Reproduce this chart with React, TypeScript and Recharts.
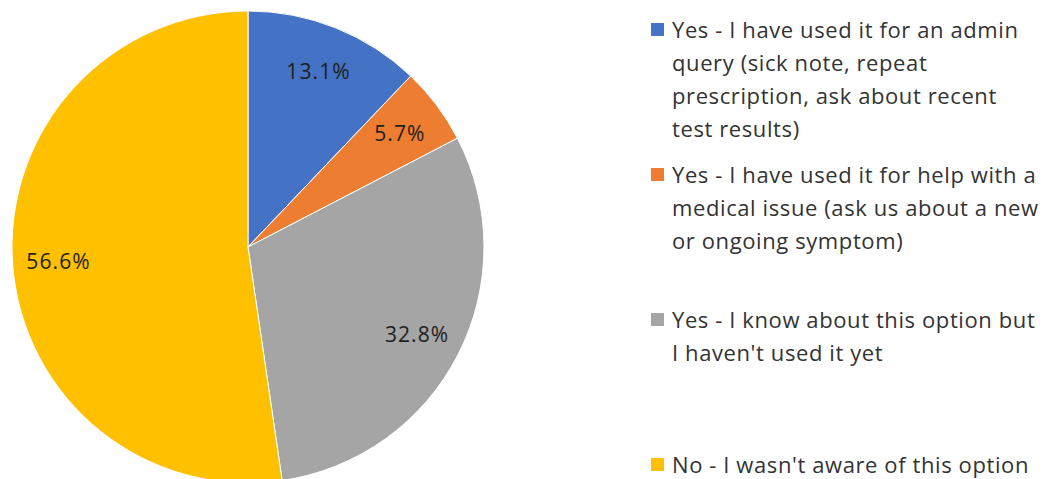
import React from "react";
import { Cell, Legend, Pie, PieChart } from "recharts";

const categories = [
  "Yes - I have used it for an admin query (sick note, repeat prescription, ask about recent test results)",
  "Yes - I have used it for help with a medical issue (ask us about a new or ongoing symptom)",
  "Yes - I know about this option but I haven't used it yet",
  "No - I wasn't aware of this option",
];
const values = [13.1, 5.7, 32.8, 56.6];
const colors = ["#4472C4", "#ED7D31", "#A5A5A5", "#FFC000"];
// legend text as it wraps in the original
const legendLines = [
  ["Yes - I have used it for an admin", "query (sick note, repeat", "prescription, ask about recent", "test results)"],
  ["Yes - I have used it for help with a", "medical issue (ask us about a new", "or ongoing symptom)"],
  ["Yes - I know about this option but", "I haven't used it yet"],
  ["No - I wasn't aware of this option"],
];

const data = categories.map((name, i) => ({ name, value: values[i], color: colors[i] }));

const FONT = "'Open Sans', Lato, sans-serif";
const RAD = Math.PI / 180;

function renderLabel(props: any) {
  const { cx, cy, midAngle, outerRadius, value } = props;
  const r = outerRadius * 0.805;
  const x = cx + r * Math.cos(-midAngle * RAD);
  const y = cy + r * Math.sin(-midAngle * RAD);
  return (
    <text
      x={x}
      y={y}
      fill="#1e1e1e"
      fontSize={21}
      letterSpacing={1.1}
      fontFamily={FONT}
      textAnchor="middle"
      dominantBaseline="central"
    >
      {`${value.toFixed(1)}%`}
    </text>
  );
}

function LegendBox() {
  return (
    <div style={{ fontFamily: FONT, fontSize: 22, letterSpacing: 0.6, color: "#333", lineHeight: "33px" }}>
      {legendLines.map((lines, i) => (
        <div key={i} style={{ position: "relative", height: 145, paddingLeft: 42 }}>
          <span
            style={{
              position: "absolute",
              left: 21,
              top: 10,
              width: 13,
              height: 13,
              background: colors[i],
            }}
          />
          {lines.map((l, j) => (
            <div key={j} style={{ whiteSpace: "nowrap" }}>
              {l}
            </div>
          ))}
        </div>
      ))}
    </div>
  );
}

export default function App() {
  return (
    <div style={{ width: 1045, height: 479, background: "#fff" }}>
      <style>{`body{margin:0}`}</style>
      <PieChart width={1045} height={479} margin={{ top: 0, right: 0, bottom: 0, left: 0 }}>
        <Pie
          data={data}
          dataKey="value"
          nameKey="name"
          cx={248}
          cy={247}
          outerRadius={236}
          startAngle={90}
          endAngle={-270}
          stroke="#fff"
          strokeWidth={1}
          label={renderLabel}
          labelLine={false}
          isAnimationActive={false}
        >
          {data.map((d) => (
            <Cell key={d.name} fill={d.color} />
          ))}
        </Pie>
        <Legend
          layout="vertical"
          content={() => <LegendBox />}
          wrapperStyle={{ position: "absolute", left: 630, top: 13, width: 415 }}
        />
      </PieChart>
    </div>
  );
}
